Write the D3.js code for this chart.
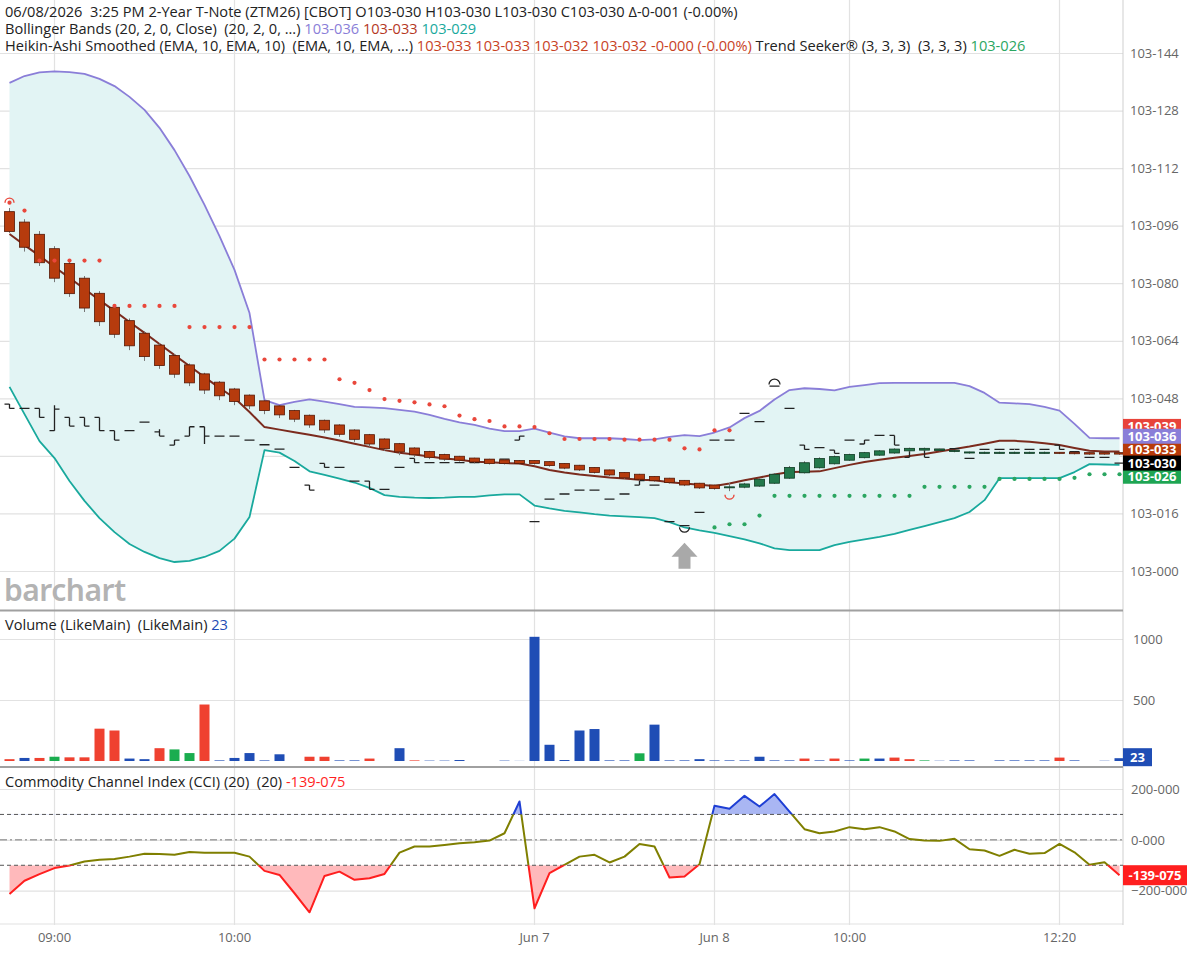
<!DOCTYPE html>
<html>
<head>
<meta charset="utf-8">
<script src="https://d3js.org/d3.v7.min.js"></script>
<style>
  body { margin: 0; background: #fff; }
  svg { display: block; font-family: "Open Sans", "Noto Sans", sans-serif; }
</style>
</head>
<body>
<div id="chart"></div>
<script>
// ---- data (price values are the part after "103-", e.g. 30.0 -> 103-030) ----
var xLabels   = ["09:00", "10:00", "Jun 7", "Jun 8", "10:00", "12:20"];
var xLabelIdx = [3, 15, 35, 47, 56, 70];
var priceTicks = [0, 16, 32, 48, 64, 80, 96, 112, 128, 144];
var volTicks = [500, 1000];
var cciTicks = [-200, 0, 200];

// Heikin-Ashi smoothed candles
var haOpen = [99.9,97.0,93.6,89.6,85.5,81.4,77.2,73.3,69.6,66.1,62.8,59.9,57.3,54.8,52.5,50.6,48.9,47.3,45.9,44.6,
  43.3,41.9,40.6,39.2,37.9,36.7,35.4,34.2,33.2,32.4,31.9,31.4,31.1,30.9,30.7,30.7,30.4,29.9,29.4,28.8,
  28.1,27.4,26.9,26.3,25.8,25.2,24.4,23.9,23.2,23.3,23.6,24.4,25.8,27.3,28.7,29.8,30.8,31.5,32.2,32.8,
  33.4,33.6,33.5,33.2,32.8,32.7,32.7,32.7,32.7,32.7,33.0,33.0,32.9,32.9,32.9];
var haClose = [94.4,90.0,85.7,81.4,77.1,73.1,69.3,65.8,62.6,59.6,57.1,54.7,52.3,50.3,48.7,47.1,45.9,44.6,43.4,42.2,
  40.6,39.2,38.0,36.6,35.3,34.0,33.1,32.3,31.6,31.1,30.8,30.3,29.9,29.9,29.9,29.9,29.3,28.6,28.1,27.4,
  26.7,25.9,25.5,25.1,24.6,23.9,23.1,22.9,23.4,24.2,25.5,26.9,28.8,30.1,31.3,31.8,32.4,32.9,33.4,33.9,
  34.1,34.1,33.9,33.5,33.1,33.0,33.0,33.0,33.0,33.0,32.7,32.6,32.5,32.5,32.5];
var haHigh = [100.9,97.8,94.5,90.3,86.2,82.0,77.8,73.9,70.2,66.6,63.3,60.3,57.7,55.1,52.8,50.9,49.1,47.5,46.1,44.8,
  43.5,42.1,40.8,39.4,38.1,36.9,35.6,34.4,33.4,32.6,32.0,31.5,31.2,31.0,30.8,30.8,30.5,30.0,29.5,28.9,
  28.2,27.5,27.0,26.4,25.9,25.3,24.5,24.0,24.5,24.5,25.8,27.2,29.2,30.5,31.6,32.1,32.6,33.1,33.6,34.1,
  34.3,34.3,34.0,33.6,33.2,33.2,33.2,33.2,33.2,33.2,33.1,33.1,33.0,33.0,33.0];
var haLow = [94.0,88.8,84.8,80.3,76.2,72.0,68.1,64.8,61.4,58.4,56.2,53.7,51.4,49.2,47.5,46.1,45.0,43.6,42.5,41.4,
  39.8,38.4,37.3,35.9,34.5,33.4,32.2,31.7,31.1,30.6,30.4,29.9,29.6,29.6,29.6,29.6,29.0,28.3,27.8,27.1,
  26.4,25.6,25.2,24.8,24.3,23.6,22.8,22.6,22.2,23.0,23.4,24.2,25.6,27.1,28.5,29.6,30.6,31.3,32.0,32.6,
  33.2,33.4,33.3,33.0,32.6,32.6,32.6,32.6,32.6,32.6,32.5,32.4,32.3,32.3,32.3];

// price OHLC bars
var ohO = [46.4,45.2,45.2,39.0,42.7,42.7,42.7,39.0,39.0,41.4,38.7,35.0,37.5,40.1,37.5,37.5,36.4,35.1,33.9,28.8,
  23.9,29.9,28.8,25.0,25.0,22.7,28.8,31.3,30.1,30.1,30.1,30.1,30.9,31.1,36.4,13.7,20.0,21.4,22.5,22.5,
  20.0,21.4,23.9,23.9,13.7,12.6,16.3,36.4,36.4,43.8,41.5,51.4,45.2,35.0,34.3,33.6,36.4,35.3,37.7,37.7,
  31.6,33.8,33.8,34.0,31.3,33.8,33.8,33.8,33.8,33.8,35.0,33.2,31.6,31.6,30.0];
var ohH = [46.4,45.2,45.2,46.1,42.7,42.7,42.7,39.0,39.0,41.4,39.4,36.4,40.1,40.1,37.5,37.5,36.4,35.1,33.9,28.8,
  23.9,29.9,28.8,25.0,25.0,22.7,28.8,31.3,30.1,30.1,30.1,30.1,30.9,31.1,37.5,13.7,20.0,21.4,22.5,22.5,
  20.0,21.4,25.1,23.9,13.7,12.6,16.3,36.4,36.4,43.8,41.5,51.4,45.2,35.0,34.3,33.6,36.4,36.4,37.7,37.7,
  33.8,33.8,33.8,34.0,31.3,33.8,33.8,33.8,33.8,33.8,35.0,33.2,31.6,31.6,30.0];
var ohL = [45.2,45.2,42.7,39.0,40.3,40.3,39.0,36.4,39.0,41.4,37.5,35.0,37.5,35.3,37.5,37.5,36.4,35.1,33.9,28.8,
  22.5,28.8,28.8,25.0,22.7,22.7,28.8,30.1,30.1,30.1,30.1,30.1,30.9,31.1,36.4,13.7,20.0,21.4,22.5,22.5,
  20.0,21.4,23.9,23.9,13.7,12.6,16.3,36.4,36.4,43.8,41.5,51.4,45.2,33.8,34.3,32.7,36.4,35.3,37.7,35.0,
  31.6,31.6,33.8,34.0,31.3,33.8,33.8,33.8,33.8,33.8,33.8,33.2,31.6,31.6,30.0];
var ohC = [45.2,45.2,42.7,45.0,40.3,40.3,39.0,36.4,39.0,41.4,37.5,36.4,40.1,37.5,37.5,37.5,36.4,35.1,33.9,28.8,
  22.5,28.8,28.8,25.0,22.7,22.7,28.8,30.1,30.1,30.1,30.1,30.1,30.9,31.1,37.5,13.7,20.0,21.4,22.5,22.5,
  20.0,21.4,25.1,23.9,13.7,12.6,16.3,36.4,36.4,43.8,41.5,51.4,45.2,33.8,34.3,32.7,36.4,36.4,37.7,35.0,
  33.8,31.6,33.8,34.0,31.3,33.8,33.8,33.8,33.8,33.8,33.8,33.2,31.6,31.6,30.0];

// Bollinger bands
var bbUpper = [135.7,137.6,138.6,138.9,138.7,138.2,136.8,134.8,131.8,128.2,123.2,117.0,109.8,101.8,93.1,83.7,71.7,47.5,46.1,47.0,
  47.7,47.1,46.4,45.6,45.5,45.3,44.8,44.3,43.4,42.3,41.3,40.6,39.6,38.9,38.9,39.6,38.5,37.4,36.9,36.9,
  36.9,36.7,36.4,36.6,37.3,37.8,37.5,38.5,39.9,42.5,44.5,47.7,50.3,50.8,50.6,50.2,51.2,51.7,52.2,52.3,
  52.3,52.3,52.3,52.3,51.4,49.5,46.8,46.6,46.4,45.6,44.6,40.9,37.0,36.9,36.9];
var bbMid = [93.7,90.6,87.6,84.5,81.5,78.4,75.3,72.3,69.2,66.2,63.1,60.0,57.0,53.9,50.9,48.1,44.2,40.0,39.3,38.6,
  37.9,37.1,36.3,35.4,34.5,33.6,32.9,32.4,31.8,31.3,30.9,30.4,30.2,30.0,29.9,29.1,28.1,27.4,26.8,26.4,
  26.0,25.7,25.4,25.2,24.7,24.3,24.0,23.6,24.3,25.2,26.0,26.8,27.5,27.6,27.7,28.6,29.5,30.3,30.9,31.5,
  32.0,32.5,33.2,33.9,34.6,35.4,36.2,36.2,35.9,35.5,35.0,34.2,33.4,33.2,33.2];
var bbLower = [51.2,43.6,36.1,31.4,25.0,19.5,14.7,10.8,7.5,5.3,3.6,2.5,2.8,3.9,5.6,9.0,15.0,33.6,32.9,30.6,
  27.7,26.7,25.7,24.6,23.1,21.1,20.6,20.4,20.3,20.4,20.6,20.6,21.0,21.3,21.3,18.2,17.4,16.7,16.3,15.8,
  15.4,15.2,15.0,14.7,13.6,12.1,11.3,10.6,9.7,8.8,7.7,6.3,5.8,5.8,5.8,7.2,8.1,8.8,9.5,10.3,
  11.4,12.5,13.6,14.7,16.4,19.7,25.8,25.8,25.8,25.8,25.8,27.5,29.7,29.6,29.5];

// Trend Seeker dots (null = no dot)
var tsRed = [102.4,100.2,86.3,86.3,86.3,86.3,86.3,73.7,73.7,73.7,73.7,73.7,67.8,67.8,67.8,67.8,67.8,58.8,58.8,58.8,
  58.8,58.8,53.3,52.3,50.3,47.8,47.3,46.9,46.3,45.8,43.2,42.2,41.7,40.2,40.2,40.0,38.3,36.7,36.7,36.7,
  36.7,36.5,36.5,36.5,36.5,34.1,33.8,39.1,39.1,null,null,null,null,null,null,null,null,null,null,null,
  null,null,null,null,null,null,null,null,null,null,null,null,null,null,null];
var tsGreen = [null,null,null,null,null,null,null,null,null,null,null,null,null,null,null,null,null,null,null,null,
  null,null,null,null,null,null,null,null,null,null,null,null,null,null,null,null,null,null,null,null,
  null,null,null,null,null,null,null,12.1,13.0,13.0,15.4,20.9,20.9,20.9,20.9,20.9,20.9,20.9,20.9,20.9,
  20.9,23.4,23.4,23.4,23.4,23.4,25.6,25.6,25.6,25.6,25.6,25.9,26.9,26.9,26.9];

// volume, with bar colour codes: r = down, g = up, b = unchanged
var vol = [15,25,25,35,30,30,265,250,20,15,105,95,65,463,5,25,65,5,55,0,
  35,35,5,5,20,0,105,5,3,3,8,0,0,3,1,1018,133,8,250,262,
  5,5,63,298,5,5,15,5,5,5,35,5,5,20,5,20,5,20,20,28,
  15,5,2,5,5,0,5,5,5,5,28,5,0,2,23];
var volDir = ["r","b","r","g","r","r","r","r","b","b","r","g","g","r","b","b","b","b","b","b",
  "r","r","b","b","r","b","b","r","b","b","b","b","b","b","b","b","b","b","b","b",
  "b","b","g","b","b","b","b","b","b","b","b","b","b","r","b","r","b","g","b","r",
  "r","g","b","b","b","b","b","b","b","b","r","b","b","b","b"];

// Commodity Channel Index (20)
var cci = [-213,-161,-135,-111,-101,-85,-78,-75,-66,-55,-56,-59,-48,-51,-51,-51,-66,-122,-138,-210,
  -285,-142,-125,-157,-151,-134,-50,-26,-26,-20,-13,-9,-3,26,151,-269,-131,-98,-66,-59,
  -89,-66,-16,-26,-148,-144,-96,134,122,173,131,180,111,42,26,33,50,42,50,33,
  3,-3,-4,4,-37,-42,-63,-39,-55,-52,-16,-49,-98,-88,-139.075];

// signal markers: bar index + kind
var signals = [
  {i: 0, kind: "bearCap"},
  {i: 45, kind: "cup"},
  {i: 45, kind: "arrow"},
  {i: 48, kind: "redCup"},
  {i: 51, kind: "cap"}
];

// ---- layout ----
var W = 1188, H = 953, plotRight = 1123, bottom = 925;
var svg = d3.select("#chart").append("svg").attr("width", W).attr("height", H);

var x = d3.scaleBand().domain(d3.range(haOpen.length)).range([2, 1127])
  .paddingInner(1 / 3).paddingOuter(1 / 6);
function cx(i) { return x(i) + x.bandwidth() / 2; }
var yP = d3.scaleLinear().domain([0, 144]).range([571, 53]);
var yV = d3.scaleLinear().domain([0, 1000]).range([761, 639]);
var yC = d3.scaleLinear().domain([-200, 200]).range([890.7, 789]);
var last = haOpen.length - 1;

var fmtPrice = function(v) { return "103-" + d3.format("03d")(Math.floor(v + 1e-9)); };

function styleAxis(g) {
  g.select(".domain").remove();
  g.selectAll(".tick line").attr("stroke", "#e2e2e2").attr("stroke-width", 1.2);
  g.selectAll(".tick text").attr("fill", "#666").attr("font-size", 13)
    .attr("font-family", "'Open Sans', 'Noto Sans', sans-serif");
}

// vertical grid + time labels
svg.append("g").attr("transform", "translate(0," + bottom + ")")
  .call(d3.axisBottom(x).tickValues(xLabelIdx).tickSize(-bottom).tickPadding(8)
    .tickFormat(function(d, k) { return xLabels[k]; }))
  .call(styleAxis);

// horizontal grids + right axes
var priceAxis = svg.append("g").attr("transform", "translate(" + plotRight + ",0)")
  .call(d3.axisRight(yP).tickValues(priceTicks).tickSize(-plotRight).tickPadding(7).tickFormat(fmtPrice))
  .call(styleAxis);
// the tick label sitting under the last-value boxes is covered, so leave it out
priceAxis.selectAll(".tick text")
  .filter(function(d) { return Math.abs(yP(d) - yP(ohC[last])) < 20; })
  .remove();
svg.append("g").attr("transform", "translate(" + plotRight + ",0)")
  .call(d3.axisRight(yV).tickValues(volTicks).tickSize(-plotRight).tickPadding(10).tickFormat(d3.format("d")))
  .call(styleAxis);
svg.append("g").attr("transform", "translate(" + plotRight + ",0)")
  .call(d3.axisRight(yC).tickValues(cciTicks).tickSize(-plotRight).tickPadding(8)
    .tickFormat(function(v) { return d3.format("d")(v) + "-000"; }))
  .call(styleAxis);

svg.append("line").attr("x1", 0).attr("x2", plotRight).attr("y1", 924).attr("y2", 924)
  .attr("stroke", "#e2e2e2").attr("stroke-width", 1.2);
svg.append("line").attr("x1", plotRight).attr("x2", plotRight).attr("y1", 0).attr("y2", bottom)
  .attr("stroke", "#cfcfcf");

// panel separators
[610.5, 767].forEach(function(yy) {
  svg.append("line").attr("x1", 0).attr("x2", plotRight).attr("y1", yy).attr("y2", yy)
    .attr("stroke", "#a0a0a0").attr("stroke-width", 2);
});

// watermark
svg.append("text").attr("x", 4).attr("y", 601).text("barchart")
  .attr("font-family", "'Noto Sans', sans-serif").attr("font-size", 30).attr("font-weight", 600)
  .attr("letter-spacing", -0.5).attr("fill", "#b3b3b3");

// ---- main panel ----
var idx = d3.range(haOpen.length);
var main = svg.append("g");

main.append("path").datum(idx)
  .attr("d", d3.area().x(cx).y0(function(i) { return yP(bbLower[i]); }).y1(function(i) { return yP(bbUpper[i]); }))
  .attr("fill", "#e2f4f4");

function seriesLine(arr, color, width) {
  main.append("path").datum(idx)
    .attr("d", d3.line().x(cx).y(function(i) { return yP(arr[i]); }))
    .attr("fill", "none").attr("stroke", color).attr("stroke-width", width).attr("stroke-linejoin", "round");
}
seriesLine(bbUpper, "#8a7ed8", 1.8);
seriesLine(bbLower, "#19a99d", 1.8);
seriesLine(bbMid, "#7b2b1e", 2);

// OHLC bars
main.append("g").selectAll("path").data(idx).join("path")
  .attr("d", function(i) {
    var c = cx(i);
    return "M" + c + "," + yP(ohH[i]) + "V" + yP(ohL[i]) +
      "M" + (c - 5) + "," + yP(ohO[i]) + "H" + c +
      "M" + c + "," + yP(ohC[i]) + "H" + (c + 5);
  })
  .attr("fill", "none").attr("stroke", "#222").attr("stroke-width", 1.3);

// Heikin-Ashi candles
var ha = main.append("g");
ha.selectAll("line").data(idx).join("line")
  .attr("x1", cx).attr("x2", cx)
  .attr("y1", function(i) { return yP(haHigh[i]); })
  .attr("y2", function(i) { return yP(haLow[i]); })
  .attr("stroke", "#777").attr("stroke-width", 1);
ha.selectAll("rect").data(idx).join("rect")
  .attr("x", function(i) { return x(i); })
  .attr("width", x.bandwidth())
  .attr("y", function(i) { return yP(Math.max(haOpen[i], haClose[i])); })
  .attr("height", function(i) { return Math.max(1, Math.abs(yP(haOpen[i]) - yP(haClose[i]))); })
  .attr("fill", function(i) { return haClose[i] >= haOpen[i] ? "#23784b" : "#b63b0d"; })
  .attr("stroke", function(i) { return haClose[i] >= haOpen[i] ? "#0f3b23" : "#551806"; })
  .attr("stroke-width", 0.8);

// Trend Seeker dots
main.append("g").selectAll("circle").data(idx.filter(function(i) { return tsRed[i] != null; })).join("circle")
  .attr("cx", cx).attr("cy", function(i) { return yP(tsRed[i]); }).attr("r", 2.1).attr("fill", "#e9473b");
main.append("g").selectAll("circle").data(idx.filter(function(i) { return tsGreen[i] != null; })).join("circle")
  .attr("cx", cx).attr("cy", function(i) { return yP(tsGreen[i]); }).attr("r", 2.1).attr("fill", "#2ba661");

// signal markers
signals.forEach(function(s) {
  var c = cx(s.i), p = d3.path();
  if (s.kind === "bearCap") {
    p.arc(c, yP(tsRed[s.i]), 4.5, Math.PI, 2 * Math.PI);
    main.append("path").attr("d", p.toString()).attr("fill", "none").attr("stroke", "#e9473b").attr("stroke-width", 1.4);
  } else if (s.kind === "cap") {
    p.arc(c, yP(ohH[s.i]) - 1.5, 5.5, Math.PI, 2 * Math.PI);
    main.append("path").attr("d", p.toString()).attr("fill", "none").attr("stroke", "#222").attr("stroke-width", 1.3);
  } else if (s.kind === "cup") {
    p.arc(c, yP(ohL[s.i]) + 1.5, 5, 0, Math.PI);
    main.append("path").attr("d", p.toString()).attr("fill", "none").attr("stroke", "#222").attr("stroke-width", 1.3);
  } else if (s.kind === "redCup") {
    p.arc(c, yP(haLow[s.i]) + 3.5, 4.5, 0, Math.PI);
    main.append("path").attr("d", p.toString()).attr("fill", "none").attr("stroke", "#e9473b").attr("stroke-width", 1.4);
  } else if (s.kind === "arrow") {
    var t = yP(ohL[s.i]) + 17;
    main.append("polygon")
      .attr("points", [[c, t], [c + 13, t + 14], [c + 6, t + 14], [c + 6, t + 26], [c - 6, t + 26], [c - 6, t + 14], [c - 13, t + 14]]
        .map(function(q) { return q.join(","); }).join(" "))
      .attr("fill", "#a9a9a9");
  }
});

// ---- volume panel ----
var volColor = {r: "#ef4130", b: "#1f4db5", g: "#1aad4f"};
svg.append("g").selectAll("rect").data(idx).join("rect")
  .attr("x", function(i) { return x(i); })
  .attr("width", x.bandwidth())
  .attr("y", function(i) { return yV(vol[i]); })
  .attr("height", function(i) { return yV(0) - yV(vol[i]); })
  .attr("fill", function(i) { return volColor[volDir[i]]; });

// ---- CCI panel ----
var cciG = svg.append("g");
var defs = svg.append("defs");
defs.append("clipPath").attr("id", "cciHi").append("rect")
  .attr("x", 0).attr("y", 770).attr("width", plotRight).attr("height", yC(100) - 770);
defs.append("clipPath").attr("id", "cciMid").append("rect")
  .attr("x", 0).attr("y", yC(100)).attr("width", plotRight).attr("height", yC(-100) - yC(100));
defs.append("clipPath").attr("id", "cciLo").append("rect")
  .attr("x", 0).attr("y", yC(-100)).attr("width", plotRight).attr("height", bottom - yC(-100));

var cciLine = d3.line().x(cx).y(function(i) { return yC(cci[i]); });
cciG.append("path").datum(idx).attr("clip-path", "url(#cciHi)")
  .attr("d", d3.area().x(cx).y0(yC(100)).y1(function(i) { return yC(cci[i]); }))
  .attr("fill", "#a9b6f3");
cciG.append("path").datum(idx).attr("clip-path", "url(#cciLo)")
  .attr("d", d3.area().x(cx).y0(yC(-100)).y1(function(i) { return yC(cci[i]); }))
  .attr("fill", "#ffb9bb");

cciG.append("line").attr("x1", 0).attr("x2", plotRight).attr("y1", yC(100)).attr("y2", yC(100))
  .attr("stroke", "#555").attr("stroke-dasharray", "4,3");
cciG.append("line").attr("x1", 0).attr("x2", plotRight).attr("y1", yC(-100)).attr("y2", yC(-100))
  .attr("stroke", "#555").attr("stroke-dasharray", "4,3");
cciG.append("line").attr("x1", 0).attr("x2", plotRight).attr("y1", yC(0)).attr("y2", yC(0))
  .attr("stroke", "#777").attr("stroke-dasharray", "7,3,2,3");

[["cciHi", "#1f3fd4"], ["cciMid", "#7f7f00"], ["cciLo", "#ff1f1f"]].forEach(function(c) {
  cciG.append("path").datum(idx).attr("clip-path", "url(#" + c[0] + ")")
    .attr("d", cciLine).attr("fill", "none").attr("stroke", c[1]).attr("stroke-width", 2)
    .attr("stroke-linejoin", "round");
});

// ---- legend texts ----
function legend(y, parts) {
  var t = svg.append("text").attr("x", 5).attr("y", y).attr("font-size", 14.6).attr("fill", "#222");
  parts.forEach(function(p) { t.append("tspan").attr("fill", p[1] || "#222").text(p[0]); });
}
legend(17, [["06/08/2026\u00a0 3:25 PM 2-Year T-Note (ZTM26) [CBOT] O103-030 H103-030 L103-030 C103-030 \u0394-0-001 (-0.00%)"]]);
legend(34, [["Bollinger Bands (20, 2, 0, Close)\u00a0 (20, 2, 0, ...) "], ["103-036 ", "#8a7ed8"], ["103-033 ", "#b5381f"], ["103-029", "#19a99d"]]);
legend(51, [["Heikin-Ashi Smoothed (EMA, 10, EMA, 10)\u00a0 (EMA, 10, EMA, ...) "],
  ["103-033 103-033 103-032 103-032 -0-000 (-0.00%) ", "#c8421f"],
  ["Trend Seeker\u00ae (3, 3, 3)\u00a0 (3, 3, 3) "], ["103-026", "#2ba661"]]);
legend(630, [["Volume (LikeMain)\u00a0 (LikeMain) "], ["23", "#1f4db5"]]);
legend(787, [["Commodity Channel Index (CCI) (20)\u00a0 (20) "], ["-139-075", "#ff1f1f"]]);

// ---- last value boxes ----
function valueBox(yc, h, w, color, text) {
  svg.append("rect").attr("x", plotRight).attr("y", yc - h / 2).attr("width", w).attr("height", h).attr("fill", color);
  svg.append("text").attr("x", plotRight + w / 2).attr("y", yc).attr("dy", "0.36em")
    .attr("text-anchor", "middle").attr("font-size", 13).attr("font-weight", 700)
    .attr("fill", "#fff").text(text);
}
valueBox(yP(39.5) - 3, 14, 58, "#e8433a", "103-039");
valueBox(yP(bbMid[last]) - 2, 14, 58, "#b83a0a", fmtPrice(bbMid[last]));
valueBox(yP(tsGreen[last]) + 2.5, 14, 58, "#1ea553", fmtPrice(tsGreen[last]));
valueBox(yP(bbUpper[last]) - 2, 15, 58, "#8a7ed8", fmtPrice(bbUpper[last]));
valueBox(yP(ohC[last]), 15, 58, "#000", fmtPrice(ohC[last]));
valueBox(yV(vol[last]) - 1, 18, 29, "#1f4db5", String(vol[last]));
valueBox(yC(cci[last]), 20, 64, "#ff1f1f", "-139-075");
</script>
</body>
</html>
